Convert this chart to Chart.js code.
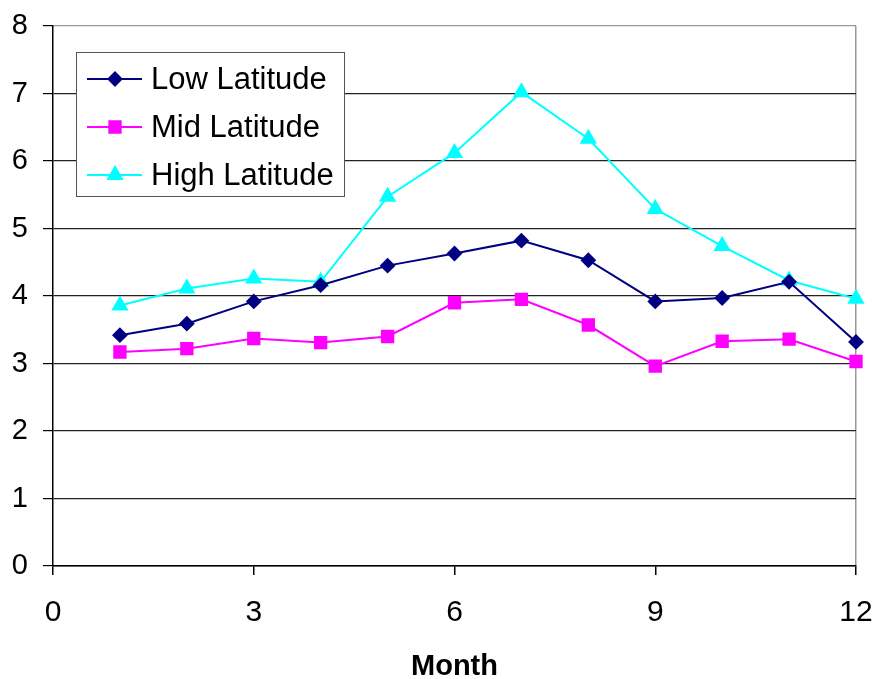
<!DOCTYPE html>
<html>
<head>
<meta charset="utf-8">
<script src="https://cdn.jsdelivr.net/npm/chart.js@4.4.1/dist/chart.umd.min.js"></script>
<style>
  html, body { margin: 0; padding: 0; background: #fff; }
  #wrap { width: 877px; height: 679px; }
</style>
</head>
<body>
<div id="wrap"><canvas id="latChart" width="877" height="679"></canvas></div>
<script>
const months = [1, 2, 3, 4, 5, 6, 7, 8, 9, 10, 11, 12];
const lowLatitude = [3.42, 3.59, 3.92, 4.16, 4.45, 4.63, 4.82, 4.53, 3.92, 3.97, 4.21, 3.32];
const midLatitude = [3.17, 3.22, 3.37, 3.31, 3.40, 3.90, 3.95, 3.57, 2.96, 3.33, 3.36, 3.03];
const highLatitude = [3.86, 4.11, 4.26, 4.21, 5.47, 6.12, 7.02, 6.33, 5.29, 4.74, 4.23, 3.96];
const seriesNames = ['Low Latitude', 'Mid Latitude', 'High Latitude'];
const xTicks = [0, 3, 6, 9, 12];
const yTicks = [0, 1, 2, 3, 4, 5, 6, 7, 8];

const FONT = "'Liberation Sans', Arial, sans-serif";

function toPoints(values) {
  return months.map((m, i) => ({ x: m, y: values[i] }));
}

// legend drawn inside the plot area, like the Excel original
const boxLegend = {
  id: 'boxLegend',
  afterDatasetsDraw(chart) {
    const ctx = chart.ctx;
    const left = 76, top = 52, width = 268, height = 144;
    ctx.save();
    ctx.fillStyle = '#fff';
    ctx.fillRect(left, top, width, height);
    ctx.strokeStyle = '#555';
    ctx.lineWidth = 1;
    ctx.strokeRect(left + 0.5, top + 0.5, width, height);

    ctx.font = '31px ' + FONT;
    ctx.textBaseline = 'middle';
    chart.data.datasets.forEach((ds, i) => {
      const y = 79 + i * 48;
      ctx.strokeStyle = ds.borderColor;
      ctx.lineWidth = 2;
      ctx.beginPath();
      ctx.moveTo(87, y);
      ctx.lineTo(142, y);
      ctx.stroke();
      ctx.fillStyle = ds.pointBackgroundColor;
      ctx.strokeStyle = ds.pointBorderColor;
      Chart.helpers.drawPoint(ctx, {
        pointStyle: ds.pointStyle,
        radius: ds.pointRadius,
        rotation: 0,
        borderWidth: 1
      }, 115, y);
      ctx.fillStyle = '#000';
      ctx.fillText(ds.label, 151, y + 1);
    });
    ctx.restore();
  }
};

const ctx = document.getElementById('latChart').getContext('2d');

new Chart(ctx, {
  type: 'line',
  data: {
    datasets: [{
      label: seriesNames[0],
      data: toPoints(lowLatitude),
      borderColor: '#000080',
      backgroundColor: '#000080',
      pointBackgroundColor: '#000080',
      pointBorderColor: '#000080',
      pointStyle: 'rectRot',
      pointRadius: 6.5,
      borderWidth: 2,
      clip: false
    }, {
      label: seriesNames[1],
      data: toPoints(midLatitude),
      borderColor: '#FF00FF',
      backgroundColor: '#FF00FF',
      pointBackgroundColor: '#FF00FF',
      pointBorderColor: '#FF00FF',
      pointStyle: 'rect',
      pointRadius: 8,
      borderWidth: 2,
      clip: false
    }, {
      label: seriesNames[2],
      data: toPoints(highLatitude),
      borderColor: '#00FFFF',
      backgroundColor: '#00FFFF',
      pointBackgroundColor: '#00FFFF',
      pointBorderColor: '#00FFFF',
      pointStyle: 'triangle',
      pointRadius: 8,
      borderWidth: 2,
      clip: false
    }]
  },
  options: {
    responsive: false,
    animation: false,
    devicePixelRatio: 1,
    layout: { autoPadding: false, padding: { top: 26, right: 21, left: 0, bottom: 0 } },
    plugins: {
      legend: { display: false },
      tooltip: { enabled: false }
    },
    elements: { line: { tension: 0 } },
    scales: {
      x: {
        type: 'linear',
        min: 0,
        max: 12,
        afterBuildTicks: (scale) => { scale.ticks = xTicks.map(v => ({ value: v })); },
        afterFit: (scale) => {
          scale.height = 113;
          scale.paddingLeft = 0;
          scale.paddingRight = 0;
        },
        border: { display: true, color: '#000', width: 1.5 },
        grid: {
          drawOnChartArea: true,
          color: (c) => (c.tick && c.tick.value === 12 ? '#999' : 'rgba(0,0,0,0)'),
          tickColor: '#000',
          tickLength: 9,
          lineWidth: 1.5
        },
        ticks: {
          color: '#000',
          font: { family: FONT, size: 30 },
          padding: 20,
          maxRotation: 0
        },
        title: {
          display: true,
          text: 'Month',
          color: '#000',
          font: { family: FONT, size: 29, weight: 'bold', lineHeight: 1 },
          padding: { top: 0, bottom: -2 }
        }
      },
      y: {
        type: 'linear',
        min: 0,
        max: 8,
        afterBuildTicks: (scale) => { scale.ticks = yTicks.map(v => ({ value: v })); },
        afterFit: (scale) => {
          scale.width = 53;
          scale.paddingTop = 0;
          scale.paddingBottom = 0;
        },
        border: { display: true, color: '#000', width: 1.5 },
        grid: {
          color: (c) => (c.tick && c.tick.value === 8 ? '#999' : '#222'),
          tickColor: '#000',
          tickLength: 10,
          lineWidth: 1.2
        },
        ticks: {
          color: '#000',
          font: { family: FONT, size: 29 },
          padding: 15
        }
      }
    }
  },
  plugins: [boxLegend]
});
</script>
</body>
</html>
